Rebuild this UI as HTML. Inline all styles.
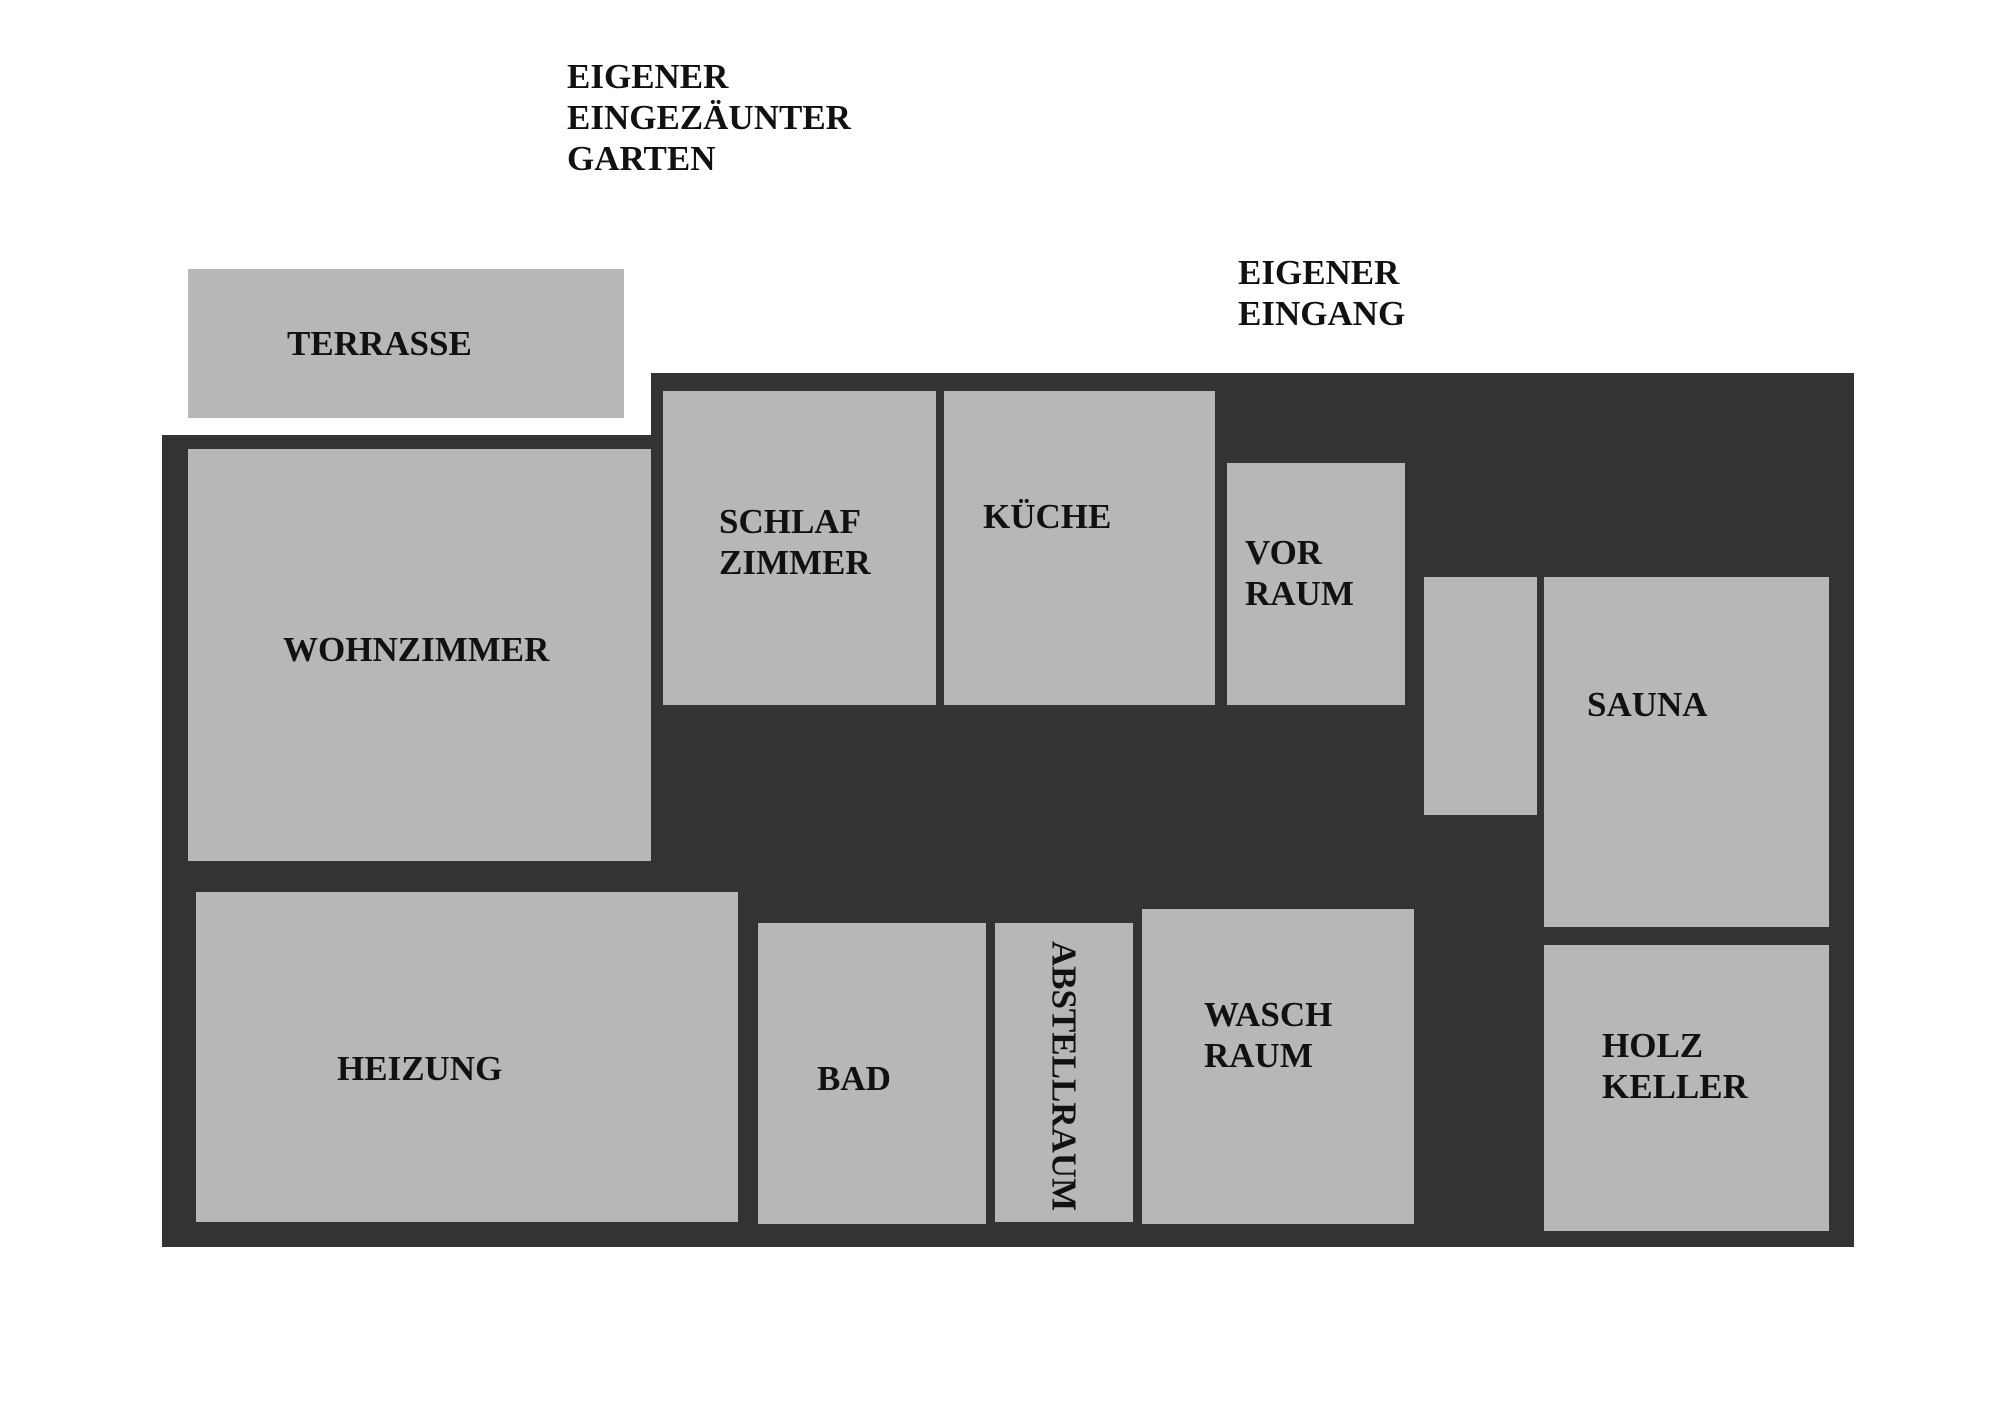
<!DOCTYPE html>
<html><head><meta charset="utf-8"><style>
body{margin:0;width:2000px;height:1401px;background:#fff;position:relative;overflow:hidden;font-family:"Liberation Serif",serif;}
div{position:absolute;box-sizing:border-box}
.d{background:#333333}
.r{background:#b8b7b8}
.t{font-size:35px;line-height:41px;font-weight:bold;color:#111;white-space:nowrap}
</style></head><body>
<div class="d" style="left:162px;top:435px;width:1692px;height:812px"></div>
<div class="d" style="left:651px;top:373px;width:1203px;height:874px"></div>
<div class="r" style="left:188px;top:269px;width:436px;height:149px"></div>
<div class="r" style="left:188px;top:449px;width:463px;height:412px"></div>
<div class="r" style="left:663px;top:391px;width:273px;height:314px"></div>
<div class="r" style="left:944px;top:391px;width:271px;height:314px"></div>
<div class="r" style="left:1227px;top:463px;width:178px;height:242px"></div>
<div class="r" style="left:1424px;top:577px;width:113px;height:238px"></div>
<div class="r" style="left:1544px;top:577px;width:285px;height:350px"></div>
<div class="r" style="left:1544px;top:945px;width:285px;height:286px"></div>
<div class="r" style="left:196px;top:892px;width:542px;height:330px"></div>
<div class="r" style="left:758px;top:923px;width:228px;height:301px"></div>
<div class="r" style="left:995px;top:923px;width:138px;height:299px"></div>
<div class="r" style="left:1142px;top:909px;width:272px;height:315px"></div>

<div class="t" style="left:567px;top:56px">EIGENER<br>EINGEZÄUNTER<br>GARTEN</div>
<div class="t" style="left:1238px;top:252px">EIGENER<br>EINGANG</div>
<div class="t" style="left:287px;top:323px">TERRASSE</div>
<div class="t" style="left:719px;top:501px">SCHLAF<br>ZIMMER</div>
<div class="t" style="left:983px;top:496px">KÜCHE</div>
<div class="t" style="left:1245px;top:532px">VOR<br>RAUM</div>
<div class="t" style="left:283px;top:629px">WOHNZIMMER</div>
<div class="t" style="left:1587px;top:684px">SAUNA</div>
<div class="t" style="left:337px;top:1048px">HEIZUNG</div>
<div class="t" style="left:817px;top:1058px">BAD</div>
<div class="t" style="left:1204px;top:994px">WASCH<br>RAUM</div>
<div class="t" style="left:1602px;top:1025px">HOLZ<br>KELLER</div>
<div class="t" style="left:1064px;top:1076px;transform:translate(-50%,-50%) rotate(90deg);left:1064px;top:1076px;">ABSTELLRAUM</div>
</body></html>
